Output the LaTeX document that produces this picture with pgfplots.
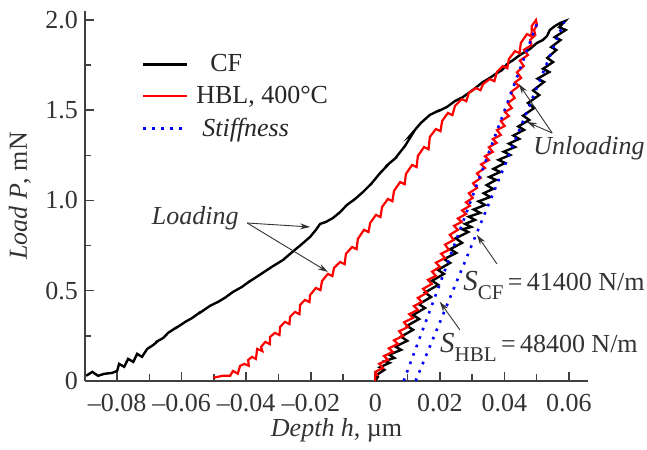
\documentclass[border=0pt]{standalone}
\usepackage{fontspec}
\setmainfont{Liberation Serif}
\usepackage{pgfplots}
\pgfplotsset{compat=1.18}
\usetikzlibrary{arrows.meta}
\definecolor{axgray}{HTML}{404040}
\definecolor{txtgray}{HTML}{333333}
\definecolor{stblue}{HTML}{0000FF}
\definecolor{hblred}{HTML}{FF0000}
\newcommand\fs{\fontsize{13}{15.6}\selectfont}
\newcommand\sub[1]{\raisebox{-0.32em}{\fontsize{10.5}{12}\selectfont #1}}
\newcommand\bigS{{\fontsize{14.5}{16}\selectfont\itshape S}}
\tikzset{annot/.style={draw=txtgray, line width=0.45pt, -{Stealth[length=5pt,width=3pt]}}}

\begin{document}
\begin{tikzpicture}
\begin{axis}[
  scale only axis, width=251.8pt, height=185pt,
  xmin=-0.09, xmax=0.066, ymin=0, ymax=2.05,
  clip=false,
  scaled x ticks=false, scaled y ticks=false,
  axis x line*=bottom, axis y line*=left,
  axis line style={draw=axgray, line width=1pt},
  tick align=inside,
  major tick length=4.5pt, minor tick length=3.2pt,
  every tick/.style={axgray, line width=0.8pt},
  xtick={-0.08,-0.06,-0.04,-0.02,0,0.02,0.04,0.06},
  xticklabels={--0.08,--0.06,--0.04,--0.02,0,0.02,0.04,0.06},
  minor x tick num=1,
  ytick={0,0.5,1,1.5,2}, yticklabels={0,0.5,1.0,1.5,2.0},
  minor y tick num=1,
  ticklabel style={font=\fs, text=txtgray},
  xticklabel style={yshift=-3pt},
  xlabel={\textit{Depth h}, µm},
  ylabel={\textit{Load P}, mN},
  label style={font=\fs, text=txtgray},
  xlabel style={at={(axis description cs:0.5,0)}, anchor=base, yshift=-28pt},
  ylabel style={at={(axis description cs:0,0.5)}, anchor=base, rotate=0, yshift=29pt},
  legend image code/.code={\draw[#1] (0pt,0pt) -- (22pt,0pt);},
  legend cell align=left,
  legend style={draw=none, fill=none, font=\fs, text=black!85,
    at={(axis cs:-0.0725,1.822)}, anchor=north west,
    inner sep=0pt, row sep=3.7pt, column sep=3pt, nodes={inner sep=1pt}},
]
% CF: loading and unloading
\addplot[black, line width=1.2pt] table {
x y
-0.0896 0.028
-0.0877 0.050
-0.0859 0.028
-0.0840 0.039
-0.0816 0.044
-0.0800 0.055
-0.0794 0.094
-0.0778 0.078
-0.0766 0.122
-0.0750 0.105
-0.0738 0.150
-0.0723 0.133
-0.0707 0.177
-0.0688 0.199
-0.0673 0.222
-0.0680 0.215
-0.0657 0.238
-0.0642 0.266
-0.0614 0.299
-0.0620 0.290
-0.0589 0.327
-0.0567 0.349
-0.0542 0.382
-0.0548 0.372
-0.0512 0.416
-0.0487 0.438
-0.0462 0.465
-0.0468 0.458
-0.0441 0.493
-0.0413 0.521
-0.0388 0.554
-0.0394 0.546
-0.0363 0.582
-0.0335 0.615
-0.0311 0.643
-0.0317 0.636
-0.0286 0.670
-0.0264 0.704
-0.0246 0.731
-0.0227 0.759
-0.0233 0.750
-0.0202 0.798
-0.0184 0.837
-0.0171 0.870
-0.0153 0.881
-0.0131 0.903
-0.0109 0.936
-0.0114 0.926
-0.0088 0.975
-0.0063 1.008
-0.0068 1.000
-0.0038 1.047
-0.0010 1.097
-0.0016 1.085
0.0015 1.152
0.0039 1.197
0.0033 1.190
0.0067 1.241
0.0061 1.232
0.0092 1.302
0.0117 1.374
0.0111 1.366
0.0141 1.429
0.0169 1.474
0.0200 1.501
0.0194 1.494
0.0222 1.518
0.0247 1.551
0.0272 1.573
0.0266 1.566
0.0302 1.612
0.0334 1.657
0.0355 1.679
0.0349 1.672
0.0377 1.706
0.0393 1.723
0.0408 1.756
0.0427 1.778
0.0421 1.770
0.0448 1.806
0.0479 1.839
0.0501 1.873
0.0519 1.889
0.0532 1.911
0.0541 1.945
0.0557 1.967
0.0572 1.983
0.0588 1.994
0.0570 1.960
0.0590 1.945
0.0556 1.905
0.0574 1.889
0.0545 1.850
0.0561 1.834
0.0533 1.790
0.0551 1.767
0.0520 1.730
0.0539 1.712
0.0503 1.675
0.0523 1.657
0.0489 1.610
0.0508 1.584
0.0473 1.540
0.0492 1.512
0.0458 1.470
0.0477 1.446
0.0443 1.410
0.0461 1.391
0.0428 1.360
0.0446 1.341
0.0414 1.315
0.0433 1.296
0.0398 1.270
0.0418 1.252
0.0382 1.225
0.0402 1.208
0.0366 1.175
0.0387 1.158
0.0353 1.130
0.0374 1.114
0.0345 1.085
0.0365 1.064
0.0336 1.040
0.0356 1.019
0.0320 0.995
0.0340 0.975
0.0305 0.950
0.0325 0.931
0.0290 0.910
0.0309 0.892
0.0278 0.870
0.0297 0.853
0.0270 0.840
0.0288 0.825
0.0249 0.790
0.0269 0.765
0.0232 0.730
0.0251 0.709
0.0213 0.675
0.0232 0.654
0.0194 0.615
0.0213 0.593
0.0176 0.555
0.0195 0.532
0.0154 0.490
0.0173 0.465
0.0135 0.425
0.0154 0.404
0.0117 0.365
0.0136 0.343
0.0098 0.305
0.0117 0.283
0.0080 0.245
0.0099 0.222
0.0062 0.190
0.0080 0.172
0.0043 0.145
0.0059 0.127
0.0030 0.110
0.0044 0.100
0.0014 0.075
0.0028 0.061
0.0002 0.030
0.0008 0.022
0.0000 0.000
};
\addlegendentry{\hspace{7pt}CF}
% HBL 400 C: loading and unloading
\addplot[hblred, line width=1.1pt] table {
x y
-0.0502 0.017
-0.0474 0.028
-0.0450 0.028
-0.0441 0.055
-0.0426 0.040
-0.0419 0.083
-0.0406 0.094
-0.0392 0.084
-0.0394 0.116
-0.0382 0.133
-0.0370 0.122
-0.0366 0.177
-0.0350 0.165
-0.0354 0.188
-0.0341 0.216
-0.0327 0.204
-0.0326 0.244
-0.0311 0.266
-0.0297 0.254
-0.0295 0.299
-0.0280 0.327
-0.0266 0.315
-0.0264 0.355
-0.0249 0.382
-0.0235 0.370
-0.0233 0.421
-0.0218 0.449
-0.0204 0.437
-0.0202 0.476
-0.0184 0.515
-0.0170 0.503
-0.0165 0.554
-0.0147 0.593
-0.0133 0.581
-0.0128 0.626
-0.0109 0.659
-0.0095 0.647
-0.0091 0.704
-0.0072 0.742
-0.0058 0.730
-0.0054 0.787
-0.0035 0.837
-0.0021 0.825
-0.0016 0.875
0.0002 0.920
0.0016 0.908
0.0021 0.964
0.0039 1.008
0.0053 0.996
0.0058 1.053
0.0077 1.102
0.0091 1.090
0.0095 1.147
0.0114 1.197
0.0128 1.185
0.0132 1.247
0.0151 1.296
0.0165 1.284
0.0169 1.352
0.0188 1.396
0.0202 1.384
0.0207 1.440
0.0225 1.485
0.0239 1.473
0.0247 1.524
0.0268 1.562
0.0282 1.550
0.0290 1.596
0.0312 1.623
0.0326 1.611
0.0334 1.645
0.0355 1.673
0.0369 1.661
0.0377 1.712
0.0395 1.745
0.0409 1.733
0.0414 1.784
0.0433 1.828
0.0447 1.816
0.0451 1.873
0.0470 1.922
0.0484 1.910
0.0485 1.967
0.0498 2.000
0.0501 1.972
0.0492 1.945
0.0496 1.917
0.0480 1.890
0.0484 1.861
0.0461 1.835
0.0473 1.806
0.0448 1.775
0.0460 1.745
0.0439 1.710
0.0452 1.679
0.0433 1.655
0.0445 1.634
0.0420 1.600
0.0432 1.568
0.0411 1.540
0.0423 1.512
0.0402 1.490
0.0414 1.468
0.0389 1.440
0.0401 1.413
0.0377 1.390
0.0389 1.363
0.0364 1.340
0.0376 1.319
0.0352 1.295
0.0364 1.269
0.0340 1.245
0.0352 1.224
0.0328 1.200
0.0340 1.180
0.0315 1.150
0.0327 1.125
0.0303 1.095
0.0315 1.069
0.0290 1.040
0.0302 1.014
0.0281 0.990
0.0293 0.970
0.0269 0.945
0.0281 0.925
0.0256 0.900
0.0268 0.881
0.0244 0.860
0.0256 0.837
0.0231 0.810
0.0243 0.781
0.0216 0.755
0.0228 0.726
0.0204 0.705
0.0216 0.681
0.0188 0.655
0.0200 0.632
0.0176 0.605
0.0188 0.582
0.0163 0.560
0.0175 0.537
0.0148 0.510
0.0160 0.488
0.0132 0.460
0.0144 0.438
0.0120 0.415
0.0132 0.393
0.0105 0.370
0.0117 0.349
0.0089 0.325
0.0101 0.299
0.0074 0.275
0.0086 0.249
0.0058 0.225
0.0070 0.205
0.0042 0.180
0.0054 0.161
0.0027 0.138
0.0039 0.116
0.0012 0.095
0.0024 0.072
0.0000 0.050
0.0005 0.033
0.0000 0.033
0.0000 0.000
};
\addlegendentry{HBL, 400°C}
% stiffness lines
\addplot[stblue, line width=1.3pt, dash pattern=on 1.3pt off 3.2pt] table {
x y
0.0088 0.000
0.0503 1.990
};
\addlegendentry{\hspace{3pt}\textit{Stiffness}}
\addplot[stblue, line width=1.3pt, dash pattern=on 1.3pt off 3.2pt, forget plot] table {
x y
0.0125 0.000
0.0585 1.990
};
% annotations
\node[font=\fs\itshape, text=txtgray, anchor=base, inner sep=0pt] at (axis cs:-0.0558,0.864) {Loading};
\draw[annot] (axis cs:-0.0397,0.875) -- (axis cs:-0.0202,0.853);
\draw[annot] (axis cs:-0.0397,0.875) -- (axis cs:-0.0147,0.604);
\node[font=\fs\itshape, text=txtgray, anchor=base, inner sep=0pt] at (axis cs:0.0662,1.255) {Unloading};
\draw[annot] (axis cs:0.0548,1.374) -- (axis cs:0.0445,1.645);
\draw[annot] (axis cs:0.0548,1.374) -- (axis cs:0.0470,1.435);
\node[font=\fs, text=txtgray, anchor=base west, inner sep=0pt] at (axis cs:0.0272,0.499) {\bigS\sub{CF}\,=\,41400 N/m};
\draw[annot] (axis cs:0.0377,0.648) -- (axis cs:0.0315,0.809);
\node[font=\fs, text=txtgray, anchor=base west, inner sep=0pt] at (axis cs:0.0200,0.155) {\bigS\sub{HBL}\,=\,48400 N/m};
\draw[annot] (axis cs:0.0262,0.283) -- (axis cs:0.0200,0.438);
\coordinate (BBL) at (axis cs:-0.1163,-0.382);
\coordinate (BTR) at (axis cs:0.0842,2.111);
\end{axis}
\pgfresetboundingbox
\path[use as bounding box] (BBL) rectangle (BTR);
\end{tikzpicture}
\end{document}
